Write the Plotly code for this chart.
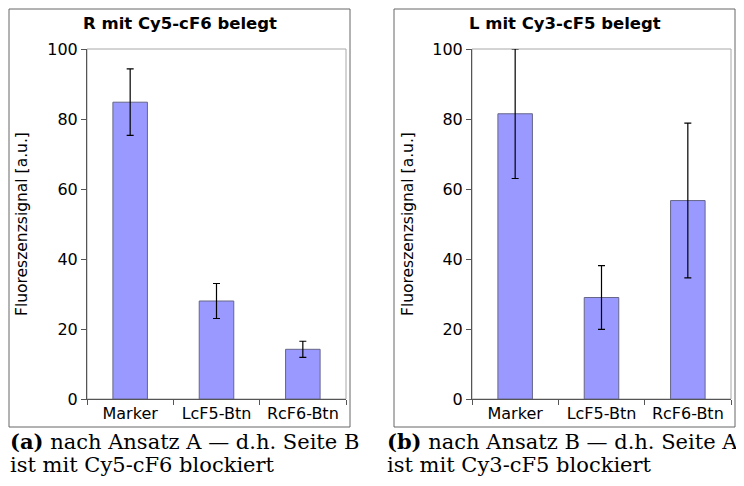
import plotly.graph_objects as go

# values
categories = ["Marker", "LcF5-Btn", "RcF6-Btn"]

left_title = "R mit Cy5-cF6 belegt"
left_values = [84.8, 28.0, 14.2]
left_errors = [9.5, 5.0, 2.3]

right_title = "L mit Cy3-cF5 belegt"
right_values = [81.5, 29.0, 56.7]
right_errors = [18.5, 9.1, 22.1]

y_ticks = [0, 20, 40, 60, 80, 100]
y_label = "Fluoreszenzsignal [a.u.]"

captions = [
    ("<b>(a)</b> nach Ansatz A — d.h. Seite B", "ist mit Cy5-cF6 blockiert"),
    ("<b>(b)</b> nach Ansatz B — d.h. Seite A", "ist mit Cy3-cF5 blockiert"),
]

# the page puts the figure 8px in from the top-left, so the figure is
# made that much smaller and all positions below are page pixels
OFF = 8
W, H = 744 - OFF, 486 - OFF
BAR_FILL = "#9999ff"
BAR_EDGE = "#666688"
AXIS = "#555555"
SANS = "DejaVu Sans"
SERIF = "DejaVu Serif"


def px_x(v):
    return (v - OFF) / W


def px_y(v):
    return 1 - (v - OFF) / H


fig = go.Figure()

panels = [
    dict(title=left_title, vals=left_values, errs=left_errors,
         box=(9, 350), plot=(87, 346), ylab_x=22, cap_x=8, cap=captions[0]),
    dict(title=right_title, vals=right_values, errs=right_errors,
         box=(394, 735), plot=(472, 731), ylab_x=408, cap_x=385, cap=captions[1]),
]

plot_top, plot_bottom = 49, 399
box_top, box_bottom = 9, 427

for i, p in enumerate(panels):
    n = "" if i == 0 else str(i + 1)
    fig.add_trace(go.Bar(
        x=categories,
        y=p["vals"],
        error_y=dict(type="data", array=p["errs"], visible=True,
                     color="black", thickness=1.2, width=3.5),
        marker=dict(color=BAR_FILL, line=dict(color=BAR_EDGE, width=1)),
        xaxis="x" + n, yaxis="y" + n,
        showlegend=False,
    ))
    dom_x = [px_x(p["plot"][0]), px_x(p["plot"][1])]
    fig.layout["xaxis" + n] = dict(
        domain=dom_x, anchor="y" + n, type="category", automargin=False,
        tickson="boundaries", ticks="outside", ticklen=5, tickcolor=AXIS,
        showline=True, linecolor=AXIS, linewidth=1, showgrid=False,
        tickfont=dict(family=SANS, size=16, color="black"),
    )
    fig.layout["yaxis" + n] = dict(
        domain=[px_y(plot_bottom), px_y(plot_top)], anchor="x" + n,
        range=[0, 100], tickvals=y_ticks, ticks="outside", ticklen=5,
        automargin=False,
        tickcolor=AXIS, showline=True, linecolor=AXIS, linewidth=1,
        showgrid=False, zeroline=False,
        tickfont=dict(family=SANS, size=16, color="black"),
    )
    # gray frame of the plot area (top/right)
    fig.add_shape(type="rect", xref="x" + n + " domain", yref="y" + n + " domain",
                  x0=0, x1=1, y0=0, y1=1, line=dict(color="#a8a8a8", width=1),
                  layer="below")
    # outer panel box
    fig.add_shape(type="rect", xref="paper", yref="paper",
                  x0=px_x(p["box"][0]), x1=px_x(p["box"][1]),
                  y0=px_y(box_bottom), y1=px_y(box_top),
                  line=dict(color="#666666", width=1))
    fig.add_annotation(
        text="<b>" + p["title"] + "</b>", xref="paper", yref="paper",
        x=px_x((p["box"][0] + p["box"][1]) / 2), y=px_y(24),
        showarrow=False, xanchor="center", yanchor="middle",
        font=dict(family=SANS, size=16.5, color="black"),
    )
    fig.add_annotation(
        text=y_label, xref="paper", yref="paper", textangle=-90,
        x=px_x(p["ylab_x"]), y=px_y((plot_top + plot_bottom) / 2),
        showarrow=False, xanchor="center", yanchor="middle",
        font=dict(family=SANS, size=15.5, color="black"),
    )
    for line_text, line_y in zip(p["cap"], (441, 465)):
        fig.add_annotation(
            text=line_text, xref="paper", yref="paper", align="left",
            x=px_x(p["cap_x"]), y=px_y(line_y),
            showarrow=False, xanchor="left", yanchor="middle",
            font=dict(family=SERIF, size=21, color="black"),
        )

fig.update_layout(
    template="none",
    width=W, height=H,
    margin=dict(l=0, r=0, t=0, b=0, pad=0),
    paper_bgcolor="white", plot_bgcolor="white",
    bargap=0.6,
)

fig.write_html("out.html")
